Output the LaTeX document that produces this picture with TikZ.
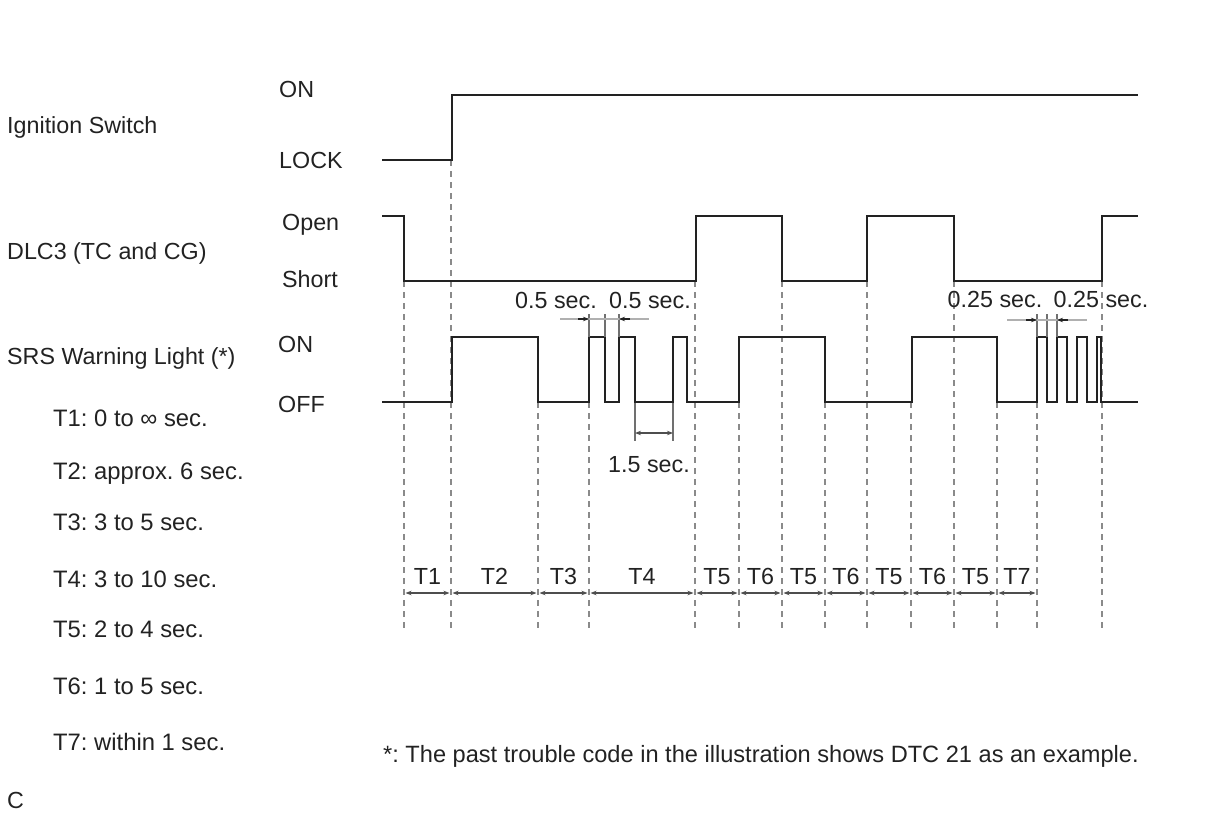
\documentclass[tikz,border=0pt]{standalone}
\usepackage{fontspec}
\setmainfont{Liberation Sans}
\usetikzlibrary{arrows.meta}
\definecolor{ink}{HTML}{222222}
\definecolor{dashgray}{HTML}{8A8A8A}
\definecolor{dimgray}{HTML}{B0B0B0}
\definecolor{extgray}{HTML}{707070}
\frenchspacing
\begin{document}
\begin{tikzpicture}[x=1pt,y=-1pt,
  txt/.style={inner sep=0pt,anchor=base west,text=ink,font=\fontsize{23.3}{27}\selectfont},
  ltxt/.style={txt,font=\fontsize{23.8}{28}\selectfont},
  ctxt/.style={inner sep=0pt,anchor=base,text=ink,font=\fontsize{23.3}{27}\selectfont},
  wave/.style={draw=ink,line width=2pt,line join=miter},
  guide/.style={draw=dashgray,line width=1.5pt,dash pattern=on 6pt off 5pt},
  dimline/.style={draw=dimgray,line width=1.5pt},
  extline/.style={draw=extgray,line width=1.2pt},
  tip/.style={draw=ink,line width=1.2pt,-{Stealth[length=6pt,width=4.5pt]}},
  span/.style={draw=ink!80,line width=1.3pt,{Stealth[length=6pt,width=4.5pt]}-{Stealth[length=6pt,width=4.5pt]}}
]
\useasboundingbox (0,0) rectangle (1208,814);

% ---- left labels
\node[txt] (ign) at (7,133) {Ignition Switch};
\node[txt] (ignon) at (279,97) {ON};
\node[txt] (lock) at (279,168) {LOCK};
\node[txt] (dlc) at (7,259) {DLC3 (TC and CG)};
\node[txt] (open) at (282,230) {Open};
\node[txt] (short) at (282,287) {Short};
\node[txt] (srs) at (7,364) {SRS Warning Light (*)};
\node[txt] (srson) at (278,352) {ON};
\node[txt] (srsoff) at (278,412) {OFF};

\node[ltxt] (t1) at (53,426) {T1: 0 to ∞ sec.};
\node[ltxt] (t2) at (53,479) {T2: approx. 6 sec.};
\node[ltxt] (t3) at (53,530) {T3: 3 to 5 sec.};
\node[ltxt] (t4) at (53,587) {T4: 3 to 10 sec.};
\node[ltxt] (t5) at (53,637) {T5: 2 to 4 sec.};
\node[ltxt] (t6) at (53,694) {T6: 1 to 5 sec.};
\node[ltxt] (t7) at (53,750) {T7: within 1 sec.};
\node[txt] (cc) at (7,808) {C};
\node[txt,font=\fontsize{23.6}{27}\selectfont] (note) at (383,762) {*: The past trouble code in the illustration shows DTC 21 as an example.};

% ---- dashed guide lines
\foreach \x/\y in {404/281,451/160,538/402,589/402,695/281,739/402,782/281,825/402,867/281,911/402,954/281,997/402,1037/402,1102/281}
  \draw[guide] (\x,\y) -- (\x,630);

% ---- waveforms
\draw[wave] (382,160) -- (452,160) -- (452,95) -- (1138,95);
\draw[wave] (382,216) -- (404,216) -- (404,281) -- (696,281) -- (696,216) -- (782,216) -- (782,281)
  -- (867,281) -- (867,216) -- (954,216) -- (954,281) -- (1102,281) -- (1102,216) -- (1138,216);
\draw[wave] (382,402) -- (452,402) -- (452,337) -- (538,337) -- (538,402) -- (589,402) -- (589,337)
  -- (605,337) -- (605,402) -- (619,402) -- (619,337) -- (635,337) -- (635,402) -- (673,402)
  -- (673,337) -- (687,337) -- (687,402) -- (739,402) -- (739,337) -- (825,337) -- (825,402)
  -- (912,402) -- (912,337) -- (997,337) -- (997,402) -- (1037,402) -- (1037,337) -- (1047,337)
  -- (1047,402) -- (1057,402) -- (1057,337) -- (1067,337) -- (1067,402) -- (1077,402) -- (1077,337)
  -- (1087,337) -- (1087,402) -- (1097,402) -- (1097,337) -- (1101,337) -- (1101,402) -- (1138,402);

% ---- 0.5 sec dimensions
\foreach \x in {589,605,619} \draw[extline] (\x,314) -- (\x,337);
\draw[dimline] (560,319) -- (649,319);
\draw[tip] (578,319) -- (589,319);
\draw[tip] (630,319) -- (619,319);
\node[ctxt] (d05a) at (556,308) {0.5 sec.};
\node[ctxt] (d05b) at (650,308) {0.5 sec.};

% ---- 1.5 sec dimension
\foreach \x in {635,673} \draw[extline] (\x,403) -- (\x,441);
\draw[span] (635,433) -- (673,433);
\node[ctxt] (d15) at (649,472) {1.5 sec.};

% ---- 0.25 sec dimensions
\foreach \x in {1037,1047,1057} \draw[extline] (\x,314) -- (\x,337);
\draw[dimline] (1007,320) -- (1087,320);
\draw[tip] (1026,320) -- (1037,320);
\draw[tip] (1068,320) -- (1057,320);
\node[ctxt] (d025a) at (995,307) {0.25 sec.};
\node[ctxt] (d025b) at (1101,307) {0.25 sec.};

% ---- timing spans
\foreach \a/\b/\t in {404/451/T1,451/538/T2,538/589/T3,589/695/T4,695/739/T5,739/782/T6,782/825/T5,825/867/T6,867/911/T5,911/954/T6,954/997/T5,997/1037/T7}{
  \draw[span] (\a+1.5,593) -- (\b-1.5,593);
  \node[ctxt] at ({(\a+\b)/2},584) {\t};
}
\end{tikzpicture}
\end{document}
